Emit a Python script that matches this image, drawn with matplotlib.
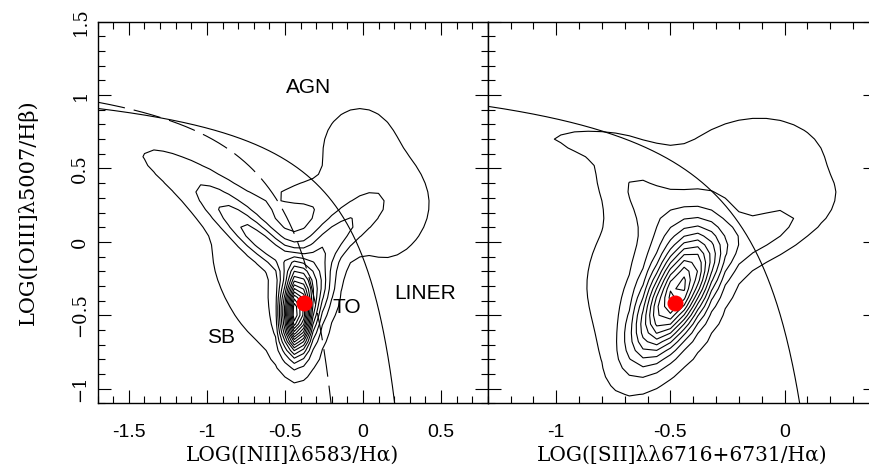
import numpy as np
import matplotlib
matplotlib.use("Agg")
import matplotlib.pyplot as plt
from matplotlib.ticker import MultipleLocator, FixedLocator, FixedFormatter

# ---------------- data ----------------
# Density components for the [NII] panel
nii_cx = [-0.43, -0.33, -0.62, -0.90, -1.22, -0.65, -0.20, -0.02, 0.22, -0.45]
nii_cy = [-0.48, -0.38, -0.02, 0.25, 0.50, -0.35, 0.02, 0.62, 0.12, 0.32]
nii_theta = [90, 75, 140, 145, 150, 120, 45, 90, 60, 0]
nii_sa = [0.17, 0.20, 0.24, 0.20, 0.32, 0.45, 0.25, 0.32, 0.28, 0.18]
nii_sp = [0.055, 0.08, 0.07, 0.09, 0.11, 0.20, 0.09, 0.26, 0.18, 0.10]
nii_amp = [5.5, 1.8, 1.4, 0.45, 0.36, 0.55, 1.1, 0.45, 0.40, 0.25]

# Density components for the [SII] panel
sii_cx = [-0.48, -0.45, -0.60, -0.64, -0.84, -0.10, -0.10]
sii_cy = [-0.38, -0.05, -0.28, 0.35, 0.67, 0.55, 0.05]
sii_theta = [72, 80, 88, 115, 165, 90, 45]
sii_sa = [0.28, 0.25, 0.45, 0.25, 0.20, 0.32, 0.22]
sii_sp = [0.085, 0.10, 0.24, 0.10, 0.06, 0.30, 0.10]
sii_amp = [4.0, 1.0, 0.55, 0.50, 0.40, 0.45, 0.70]

contour_levels = [0.3 + 0.4 * i for i in range(16)]

# demarcation curves: y = a / (x - b) + c
kewley_nii = [0.61, 0.47, 1.19]
kauffmann_nii = [0.61, 0.05, 1.30]
kewley_sii = [0.61, 0.32, 1.30]

# object positions
obj_nii = (-0.38, -0.42)
obj_sii = (-0.48, -0.42)

region_labels = ["AGN", "SB", "TO", "LINER"]
region_x = [-0.35, -0.91, -0.10, 0.40]
region_y = [1.05, -0.65, -0.45, -0.35]

nii_xticks = [-1.5, -1, -0.5, 0, 0.5]
nii_xticklabels = ["-1.5", "-1", "-0.5", "0", "0.5"]
sii_xticks = [-1, -0.5, 0]
sii_xticklabels = ["-1", "-0.5", "0"]
yticks = [-1, -0.5, 0, 0.5, 1, 1.5]
yticklabels = ["\u22121", "\u22120.5", "0", "0.5", "1", "1.5"]


def density(X, Y, cx, cy, th, sa, sp, amp):
    Z = np.zeros_like(X)
    for x0, y0, t, a, p, A in zip(cx, cy, th, sa, sp, amp):
        t = np.deg2rad(t)
        u = (X - x0) * np.cos(t) + (Y - y0) * np.sin(t)
        v = -(X - x0) * np.sin(t) + (Y - y0) * np.cos(t)
        Z += A * np.exp(-0.5 * ((u / a) ** 2 + (v / p) ** 2))
    return Z


def curve(ax, coef, xmin, ymin, **kw):
    a, b, c = coef
    xend = b + a / (ymin - c)
    xs = np.linspace(xmin, xend, 400)
    ax.plot(xs, a / (xs - b) + c, color="black", **kw)


plt.rcParams["lines.scale_dashes"] = False
fig = plt.figure(figsize=(8.7, 4.72), dpi=100)
W, H = 870.0, 472.0
bottom = (H - 403.3) / H
height = 381.6 / H
ax1 = fig.add_axes([97.7 / W, bottom, 390.0 / W, height])
ax2 = fig.add_axes([487.7 / W, bottom, 388.3 / W, height])

serif = "DejaVu Serif"
sans = "Liberation Sans"

for ax, xr in ((ax1, (-1.7, 0.8)), (ax2, (-1.3, 0.4))):
    ax.set_xlim(*xr)
    ax.set_ylim(-1.1, 1.5)
    ax.xaxis.set_minor_locator(MultipleLocator(0.1))
    ax.yaxis.set_minor_locator(MultipleLocator(0.1))
    ax.tick_params(which="both", direction="in", top=True, right=True, width=0.8)
    ax.tick_params(which="major", length=9.4)
    ax.tick_params(which="minor", length=5)
    for s in ax.spines.values():
        s.set_linewidth(1.0)

# contours
step = 0.06
gx = np.arange(-1.7, 0.8 + step, step)
gy = np.arange(-1.1, 1.5 + step, step)
GX, GY = np.meshgrid(gx, gy)
Z1 = density(GX, GY, nii_cx, nii_cy, nii_theta, nii_sa, nii_sp, nii_amp)
ax1.contour(GX, GY, Z1, levels=contour_levels, colors="black", linewidths=0.8)
Z2 = density(GX, GY, sii_cx, sii_cy, sii_theta, sii_sa, sii_sp, sii_amp)
ax2.contour(GX, GY, Z2, levels=contour_levels, colors="black", linewidths=0.8)

curve(ax1, kewley_nii, -1.7, -1.1, lw=0.8)
curve(ax1, kauffmann_nii, -1.7, -1.1, lw=0.8, dashes=(20, 6.5))
curve(ax2, kewley_sii, -1.3, -1.1, lw=0.8)

ax1.plot(*obj_nii, "o", color="red", markersize=10.5, zorder=5)
ax2.plot(*obj_sii, "o", color="red", markersize=10.5, zorder=5)

for t, x, y in zip(region_labels, region_x, region_y):
    ax1.text(x, y, t, fontsize=15, family=sans, ha="center", va="center")

ax1.xaxis.set_major_locator(FixedLocator(nii_xticks))
ax1.xaxis.set_major_formatter(FixedFormatter(nii_xticklabels))
ax2.xaxis.set_major_locator(FixedLocator(sii_xticks))
ax2.xaxis.set_major_formatter(FixedFormatter(sii_xticklabels))
for ax in (ax1, ax2):
    ax.yaxis.set_major_locator(FixedLocator(yticks))
    ax.yaxis.set_major_formatter(FixedFormatter(yticklabels))
    for lab in ax.get_xticklabels():
        lab.set_fontfamily(sans)
        lab.set_fontsize(14)
    ax.tick_params(axis="x", pad=15)
ax2.tick_params(axis="y", labelleft=False)
for lab in ax1.get_yticklabels():
    lab.set_fontfamily(serif)
    lab.set_fontsize(13)
    lab.set_rotation(90)
    lab.set_va("center")
ax1.tick_params(axis="y", pad=6)

ax1.set_xlabel("LOG([NII]\u03bb6583/H\u03b1)", family=serif, fontsize=14.5, labelpad=3)
ax2.set_xlabel("LOG([SII]\u03bb\u03bb6716+6731/H\u03b1)", family=serif, fontsize=14.5, labelpad=3)
ax1.set_ylabel("LOG([OIII]\u03bb5007/H\u03b2)", family=serif, fontsize=15, labelpad=24)

fig.savefig("out.png", dpi=100)
